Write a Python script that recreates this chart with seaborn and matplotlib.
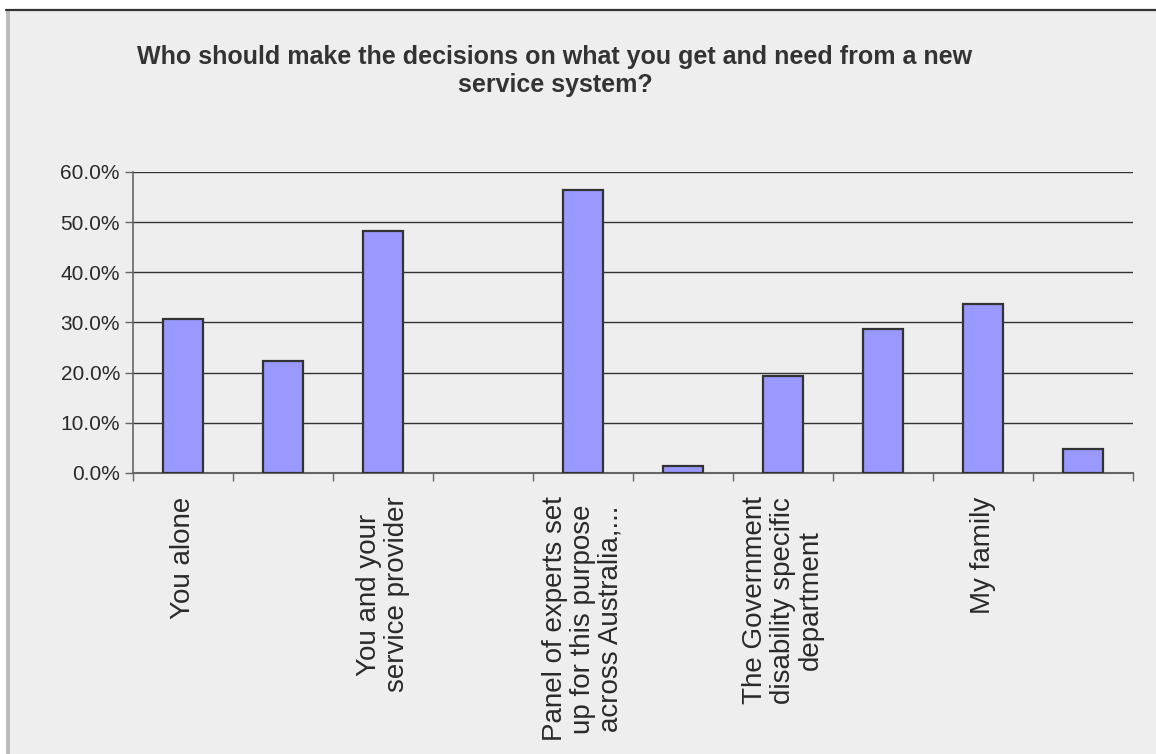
import matplotlib
matplotlib.use("Agg")
import matplotlib.pyplot as plt
from matplotlib.patches import Rectangle
from matplotlib.lines import Line2D
from matplotlib.ticker import PercentFormatter
import seaborn as sns
import pandas as pd

# Survey question and answers
title = ("Who should make the decisions on what you get and need from a new\n"
         "service system?")
options = [1, 2, 3, 4, 5, 6, 7, 8, 9, 10]
option_labels = [
    "You alone",
    "",
    "You and your\nservice provider",
    "",
    "Panel of experts set\nup for this purpose\nacross Australia,...",
    "",
    "The Government\ndisability specific\ndepartment",
    "",
    "My family",
    "",
]
shares = [0.306, 0.224, 0.483, 0.0, 0.565, 0.014, 0.193, 0.288, 0.337, 0.047]
y_ticks = [0.0, 0.1, 0.2, 0.3, 0.4, 0.5, 0.6]

df = pd.DataFrame({"option": options, "share": shares})

sns.set_theme(style="white")
plt.rcParams["font.family"] = ["Liberation Sans", "DejaVu Sans"]

W, H = 1156, 754
fig = plt.figure(figsize=(W / 100, H / 100), dpi=100, facecolor="white")

# Chart area background with its frame on the top and left
fig.add_artist(Rectangle((10 / W, 0), 1, (H - 11) / H, transform=fig.transFigure,
                         facecolor="#EEEEEE", edgecolor="none", zorder=-2))
fig.add_artist(Rectangle((6 / W, 0), 4 / W, (H - 11) / H, transform=fig.transFigure,
                         facecolor="#BBBBBB", edgecolor="none", zorder=-1))
fig.add_artist(Line2D([6 / W, 1], [1 - 10 / H, 1 - 10 / H], transform=fig.transFigure,
                      color="#333333", lw=1.6, zorder=-1))

ax = fig.add_axes([133 / W, 1 - 473 / H, 1000 / W, 301 / H])
ax.set_facecolor("none")

sns.barplot(data=df, x="option", y="share", color="#9999FF", saturation=1,
            edgecolor="#333333", linewidth=1.6, width=0.4, ax=ax, zorder=3)
for p in ax.patches:
    if p.get_height() == 0:
        p.set_visible(False)

ax.set_xlim(-0.5, 9.5)
ax.set_ylim(0, 0.6)
ax.set_xlabel("")
ax.set_ylabel("")

ax.set_yticks(y_ticks)
ax.yaxis.set_major_formatter(PercentFormatter(1.0, decimals=1))
ax.yaxis.grid(True, color="#333333", lw=1.0)
ax.xaxis.grid(False)
ax.set_axisbelow(True)

for side in ("top", "right"):
    ax.spines[side].set_visible(False)
ax.spines["left"].set_color("#666666")
ax.spines["left"].set_linewidth(1.2)
ax.spines["bottom"].set_color("#666666")
ax.spines["bottom"].set_linewidth(1.5)

ax.tick_params(axis="y", left=True, length=5.8, width=1, color="#666666",
               pad=3.6, labelsize=15, labelcolor="#2a2a2a")

ax.set_xticks(range(len(options)))
ax.set_xticklabels(option_labels, rotation=90, ha="center", va="top",
                   multialignment="center", fontsize=20, color="#2a2a2a",
                   linespacing=1.08)
ax.tick_params(axis="x", which="major", bottom=True, length=0, pad=17)
ax.set_xticks([i - 0.5 for i in range(len(options) + 1)], minor=True)
ax.tick_params(axis="x", which="minor", bottom=True, length=5.8, width=1,
               color="#666666")

fig.text(555 / W, 1 - 45 / H, title, ha="center", va="top", fontsize=18,
         fontweight="bold", color="#333333", linespacing=1.2)

fig.savefig("out.png", dpi=100, facecolor=fig.get_facecolor())
